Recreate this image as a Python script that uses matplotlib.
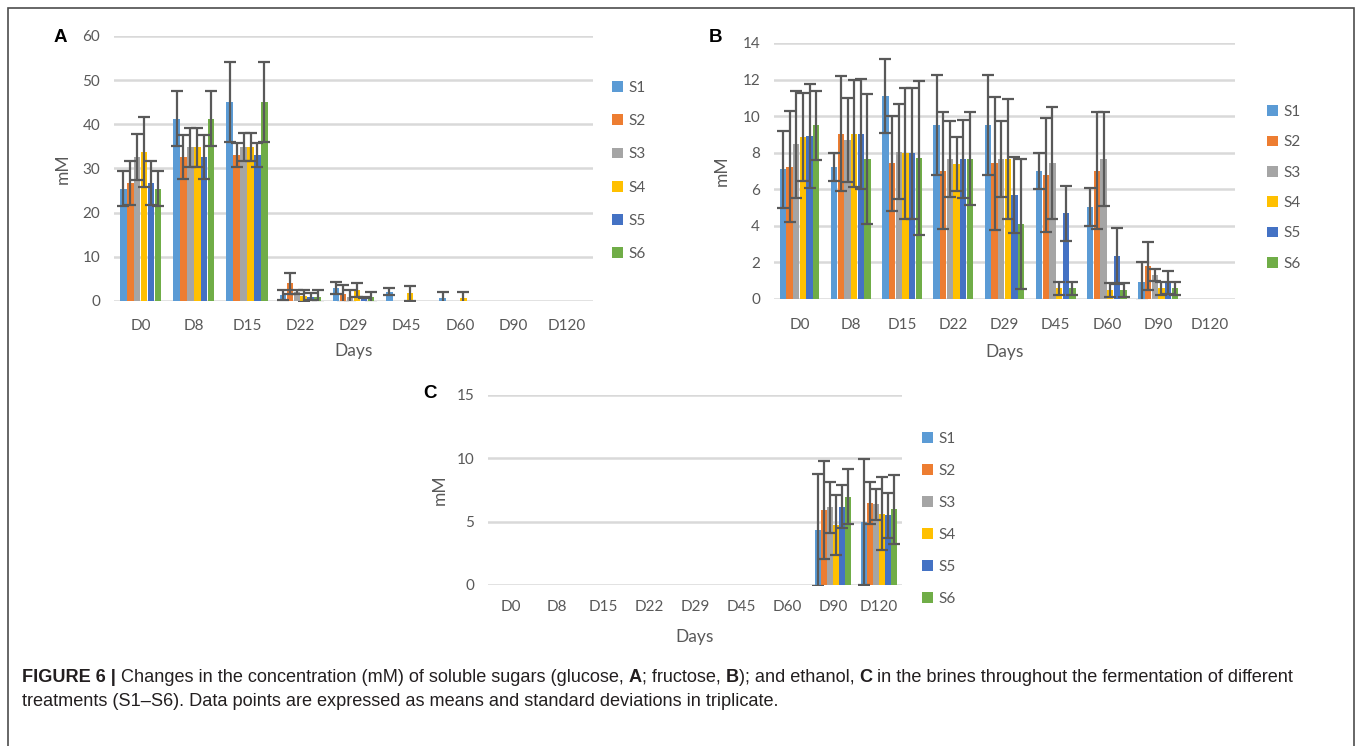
import numpy as np
import matplotlib
matplotlib.use('Agg')
import matplotlib.pyplot as plt
from matplotlib.patches import Rectangle

# sampling days and treatments
days = ['D0', 'D8', 'D15', 'D22', 'D29', 'D45', 'D60', 'D90', 'D120']
treatments = ['S1', 'S2', 'S3', 'S4', 'S5', 'S6']

# A - glucose (mM), means and SD per treatment
glc_S1 = [25.4, 41.3, 45.0, 1.4, 2.9, 2.1, 0.6, 0, 0]
glc_S2 = [26.8, 32.6, 33.1, 4.0, 1.6, 0, 0, 0, 0]
glc_S3 = [32.6, 34.8, 34.8, 2.0, 1.0, 0, 0, 0, 0]
glc_S4 = [33.8, 34.8, 34.8, 1.1, 2.5, 1.7, 0.6, 0, 0]
glc_S5 = [26.8, 32.6, 33.1, 1.0, 0.8, 0, 0, 0, 0]
glc_S6 = [25.4, 41.3, 45.0, 1.0, 0.8, 0, 0, 0, 0]
glc_sd_S1 = [4.0, 6.2, 9.1, 1.1, 1.3, 0.8, 1.5, 0, 0]
glc_sd_S2 = [5.0, 5.0, 2.7, 2.4, 2.0, 0, 0, 0, 0]
glc_sd_S3 = [5.2, 4.4, 3.2, 0.5, 1.5, 0, 0, 0, 0]
glc_sd_S4 = [7.9, 4.4, 3.2, 1.4, 1.6, 1.7, 1.5, 0, 0]
glc_sd_S5 = [5.0, 5.0, 2.7, 0.7, 0.2, 0, 0, 0, 0]
glc_sd_S6 = [4.0, 6.2, 9.1, 1.5, 1.3, 0, 0, 0, 0]

# B - fructose (mM)
fru_S1 = [7.09, 7.2, 11.1, 9.51, 9.51, 7.0, 5.01, 0.95, 0]
fru_S2 = [7.24, 9.05, 7.42, 7.02, 7.42, 6.78, 7.02, 1.8, 0]
fru_S3 = [8.45, 8.7, 8.05, 7.66, 7.66, 7.42, 7.64, 1.31, 0]
fru_S4 = [8.84, 9.05, 7.96, 7.38, 7.66, 0.58, 0.49, 0.58, 0]
fru_S5 = [8.93, 9.04, 7.96, 7.66, 5.69, 4.68, 2.35, 0.89, 0]
fru_S6 = [9.5, 7.65, 7.7, 7.66, 4.1, 0.58, 0.49, 0.58, 0]
fru_sd_S1 = [2.1, 0.76, 2.0, 2.74, 2.74, 1.0, 1.04, 1.05, 0]
fru_sd_S2 = [3.05, 3.15, 2.6, 3.18, 3.64, 3.1, 3.18, 1.3, 0]
fru_sd_S3 = [2.9, 2.3, 2.6, 2.1, 2.1, 3.06, 2.56, 0.31, 0]
fru_sd_S4 = [2.4, 2.95, 3.6, 1.5, 3.26, 0.37, 0.4, 0.37, 0]
fru_sd_S5 = [2.85, 3.0, 3.6, 2.13, 2.06, 1.52, 1.52, 0.64, 0]
fru_sd_S6 = [1.9, 3.55, 4.2, 2.54, 3.56, 0.37, 0.4, 0.37, 0]

# C - ethanol (mM)
eth_S1 = [0, 0, 0, 0, 0, 0, 0, 4.34, 4.97]
eth_S2 = [0, 0, 0, 0, 0, 0, 0, 5.92, 6.45]
eth_S3 = [0, 0, 0, 0, 0, 0, 0, 6.13, 6.36]
eth_S4 = [0, 0, 0, 0, 0, 0, 0, 4.74, 5.63]
eth_S5 = [0, 0, 0, 0, 0, 0, 0, 6.18, 5.5]
eth_S6 = [0, 0, 0, 0, 0, 0, 0, 6.97, 5.97]
eth_sd_S1 = [0, 0, 0, 0, 0, 0, 0, 4.4, 5.0]
eth_sd_S2 = [0, 0, 0, 0, 0, 0, 0, 3.9, 1.65]
eth_sd_S3 = [0, 0, 0, 0, 0, 0, 0, 2.0, 1.2]
eth_sd_S4 = [0, 0, 0, 0, 0, 0, 0, 2.4, 2.9]
eth_sd_S5 = [0, 0, 0, 0, 0, 0, 0, 1.7, 1.8]
eth_sd_S6 = [0, 0, 0, 0, 0, 0, 0, 2.15, 2.7]

# excel-ish palette
colors = ['#5B9BD5', '#ED7D31', '#A5A5A5', '#FFC000', '#4472C4', '#70AD47']
txt_gray = '#595959'
grid_gray = '#D9D9D9'

W, H = 1358, 746
fig = plt.figure(figsize=(W / 100, H / 100), dpi=100)
plt.rcParams['font.family'] = ['Lato', 'DejaVu Sans']


def px_axes(x0, y0, x1, y1):
    # pixel box (top-left origin) -> figure axes
    return fig.add_axes([x0 / W, 1 - y1 / H, (x1 - x0) / W, (y1 - y0) / H])


def bar_panel(ax, means, sds, ymax, ystep, xpad, legend_xy, legend_space, ylab_x, xlab_y):
    x = np.arange(len(days))
    width = 0.13
    for i, (m, s) in enumerate(zip(means, sds)):
        xs = x + (i - 2.5) * width
        m = np.array(m, float)
        s = np.array(s, float)
        ax.bar(xs, m, width=width * 0.95, color=colors[i], label=treatments[i], zorder=2)
        keep = s > 0
        ax.errorbar(xs[keep], m[keep], yerr=s[keep], fmt='none', ecolor='#595959',
                    elinewidth=1.6, capsize=4.2, capthick=1.6, zorder=3)
    ax.set_xlim(-0.5, len(days) - 0.5)
    ax.set_ylim(0, ymax)
    ax.set_yticks(np.arange(0, ymax + 0.01, ystep))
    ax.set_xticks(x)
    ax.set_xticklabels(days)
    ax.grid(axis='y', color=grid_gray, linewidth=1.8, zorder=0)
    ax.set_axisbelow(True)
    for sp in ax.spines.values():
        sp.set_visible(False)
    ax.tick_params(length=0, labelsize=11, colors=txt_gray)
    ax.tick_params(axis='x', pad=xpad)
    ax.tick_params(axis='y', pad=10)
    ax.set_ylabel('mM', fontsize=12.5, color=txt_gray, va='center')
    ax.yaxis.set_label_coords(ylab_x, 0.5)
    ax.set_xlabel('Days', fontsize=12.5, color=txt_gray, va='center')
    ax.xaxis.set_label_coords(0.5, xlab_y)
    leg = ax.legend(loc='upper left', bbox_to_anchor=(legend_xy[0] / W, 1 - legend_xy[1] / H),
                    bbox_transform=fig.transFigure, frameon=False, fontsize=11,
                    handlelength=0.7, handleheight=0.7, handletextpad=0.35,
                    labelspacing=legend_space, borderaxespad=0, borderpad=0)
    for t in leg.get_texts():
        t.set_color(txt_gray)


axA = px_axes(114, 36, 593, 301)
bar_panel(axA,
          [glc_S1, glc_S2, glc_S3, glc_S4, glc_S5, glc_S6],
          [glc_sd_S1, glc_sd_S2, glc_sd_S3, glc_sd_S4, glc_sd_S5, glc_sd_S6],
          60, 10, 13, (612, 81), 1.255, -0.108, -0.19)

axB = px_axes(774, 43, 1235, 299)
bar_panel(axB,
          [fru_S1, fru_S2, fru_S3, fru_S4, fru_S5, fru_S6],
          [fru_sd_S1, fru_sd_S2, fru_sd_S3, fru_sd_S4, fru_sd_S5, fru_sd_S6],
          14, 2, 14, (1267, 105), 1.07, -0.113, -0.207)

axC = px_axes(488, 395, 902, 585)
bar_panel(axC,
          [eth_S1, eth_S2, eth_S3, eth_S4, eth_S5, eth_S6],
          [eth_sd_S1, eth_sd_S2, eth_sd_S3, eth_sd_S4, eth_sd_S5, eth_sd_S6],
          15, 5, 11, (922, 432), 1.18, -0.116, -0.274)

# panel letters
for lab, px, py in [('A', 60, 37), ('B', 716, 37), ('C', 430, 393)]:
    fig.text(px / W, 1 - py / H, lab, fontsize=13.5, fontweight='bold',
             family='Liberation Sans', ha='center', va='center', color='black')

# frame round the figure
fig.add_artist(Rectangle((8 / W, -0.05), (1354 - 8) / W, 1.05 - 8 / H,
                         transform=fig.transFigure, fill=False,
                         edgecolor='#4D4D4D', linewidth=1.2))

# caption, with bold runs (baseline aligned)
cap_font = ['Liberation Sans']
cap_size = 13.1
renderer = fig.canvas.get_renderer()


def caption_line(x_px, y_px, runs):
    xf = x_px / W
    for txt, bold in runs:
        t = fig.text(xf, 1 - y_px / H, txt, fontsize=cap_size, family=cap_font,
                     fontweight='bold' if bold else 'normal', color='#231F20',
                     ha='left', va='baseline')
        xf += t.get_window_extent(renderer=renderer).width / W


caption_line(22, 682, [
    ('FIGURE 6 | ', True),
    ('Changes in the concentration (mM) of soluble sugars (glucose, ', False),
    ('A', True), ('; fructose, ', False), ('B', True),
    ('); and ethanol, ', False), ('C', True),
    (' in the brines throughout the fermentation of different', False)])
caption_line(22, 706, [
    ('treatments (S1\u2013S6). Data points are expressed as means and standard deviations in triplicate.', False)])

fig.savefig('out.png', dpi=100)
